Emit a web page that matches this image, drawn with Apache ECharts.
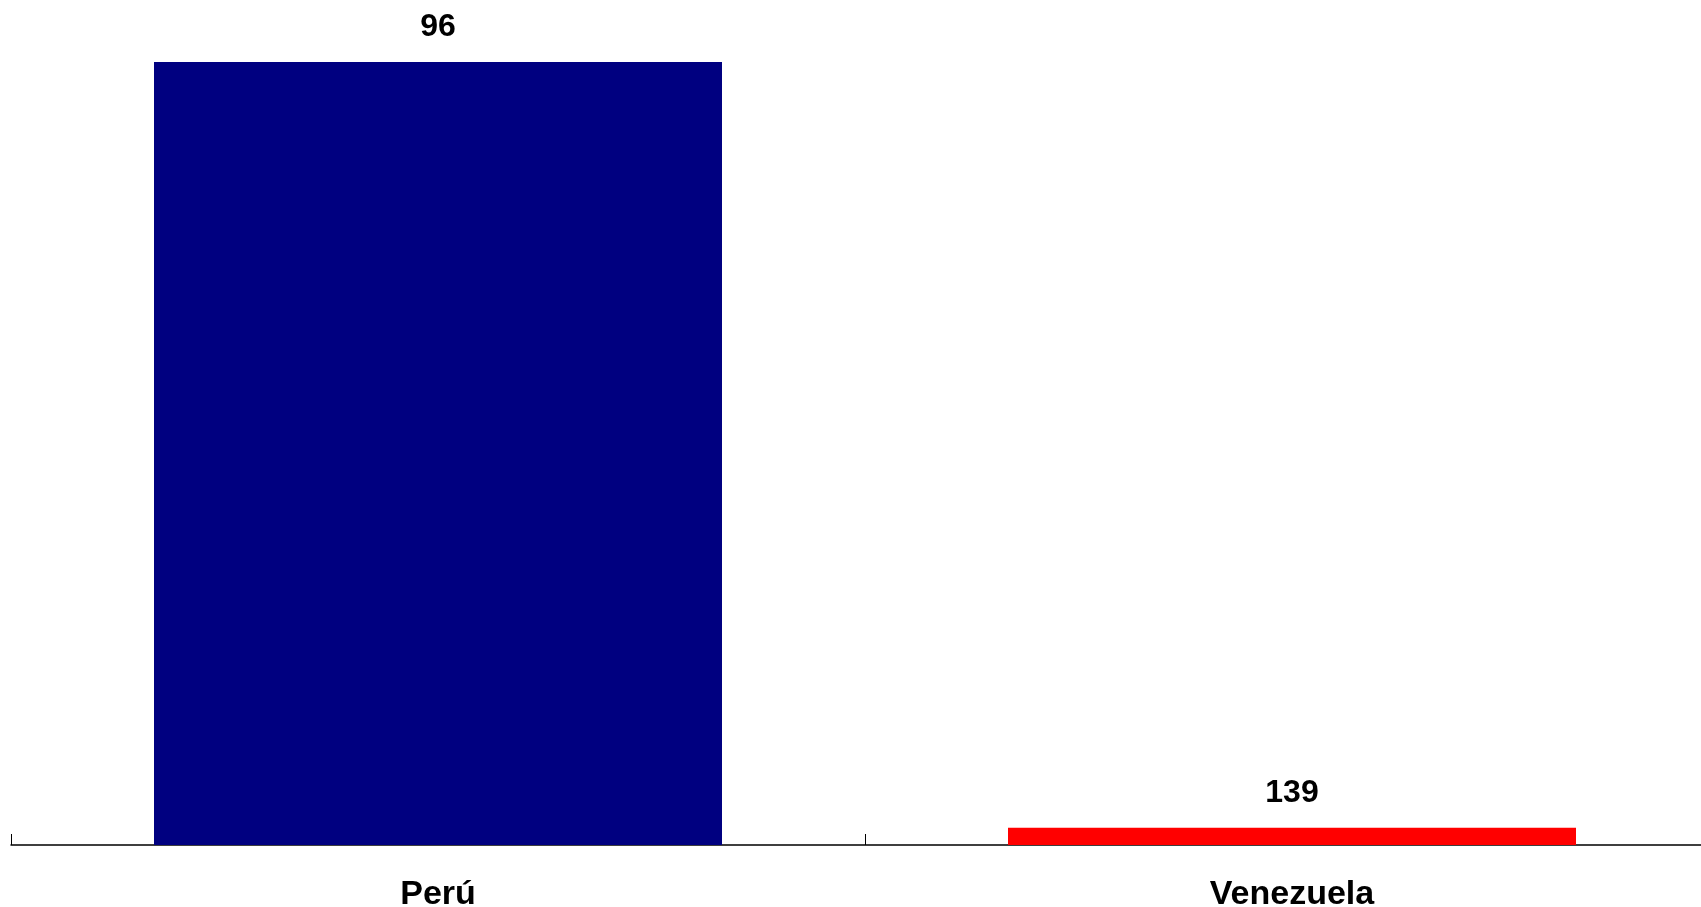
<!DOCTYPE html>
<html>
<head>
<meta charset="utf-8">
<script src="https://cdn.jsdelivr.net/npm/echarts@6/dist/echarts.min.js"></script>
<style>html,body{margin:0;padding:0;background:#fff;}#c{width:1701px;height:907px;}</style>
</head>
<body>
<div id="c"></div>
<script>
const categories = ['Perú', 'Venezuela'];
const barValues = [100, 2.2];
const barLabels = ['96', '139'];
const barColors = ['#000080', '#FF0000'];

const chart = echarts.init(document.getElementById('c'));
chart.setOption({
  animation: false,
  backgroundColor: '#ffffff',
  grid: { left: 11, top: 62, width: 1708, bottom: 62, containLabel: false, outerBoundsMode: 'none' },
  xAxis: {
    type: 'category',
    data: categories,
    axisLine: { lineStyle: { color: '#000', width: 1.5 } },
    axisTick: { show: true, inside: true, length: 11, lineStyle: { color: '#000', width: 1 } },
    axisLabel: { color: '#000', fontFamily: 'Liberation Sans, Arial, sans-serif', fontWeight: 'bold', fontSize: 34, margin: 33 }
  },
  yAxis: { type: 'value', min: 0, max: 100, show: false, splitLine: { show: false } },
  series: [{
    type: 'bar',
    barWidth: 568,
    data: barValues.map((v, i) => ({ value: v, itemStyle: { color: barColors[i] } })),
    label: {
      show: true,
      position: 'top',
      distance: 19,
      color: '#000',
      fontFamily: 'Liberation Sans, Arial, sans-serif',
      fontWeight: 'bold',
      fontSize: 32,
      formatter: p => barLabels[p.dataIndex]
    }
  }]
});
</script>
</body>
</html>
